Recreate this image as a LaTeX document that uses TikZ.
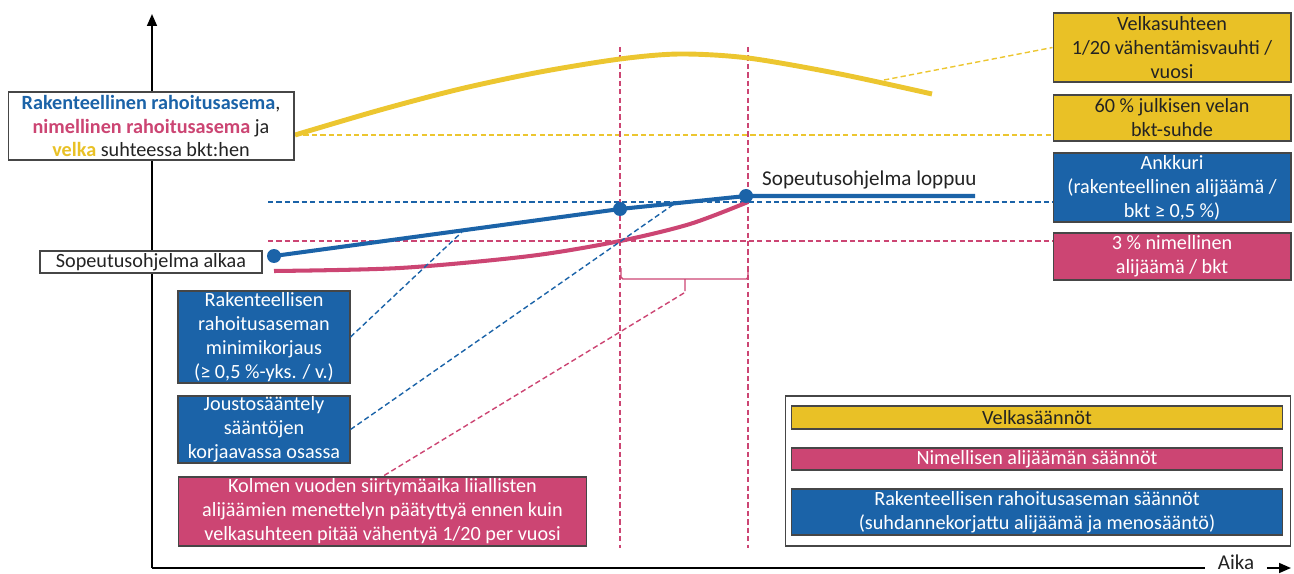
\documentclass[tikz,border=0pt]{standalone}
\usepackage{fontspec}
\setmainfont{Carlito}
\usepackage{tikz}
\usetikzlibrary{arrows.meta}
\definecolor{velka}{RGB}{233,193,38}
\definecolor{velkakayra}{RGB}{236,198,48}
\definecolor{rakenne}{RGB}{27,99,168}
\definecolor{nimellinen}{RGB}{204,69,115}
\definecolor{reuna}{RGB}{70,70,70}
\definecolor{teksti}{RGB}{35,35,35}
\tikzset{
	laatikko/.style={draw=reuna, line width=0.6pt, inner sep=0pt, align=center, text=teksti, font=\fontsize{11.5}{13.6}\selectfont},
	keltainen/.style={laatikko, fill=velka},
	sininen/.style={laatikko, fill=rakenne, text=white},
	punainen/.style={laatikko, fill=nimellinen, text=white},
	katko/.style={dash pattern=on 3pt off 1.8pt, line width=0.8pt},
	nuoli/.style={line width=1.1pt, -{Triangle[width=5.6pt,length=6.8pt]}},
}
\begin{document}
\begin{tikzpicture}[x=0.02cm,y=-0.02cm]
				\useasboundingbox (0,0) rectangle (1294,574);
				% boxes on the right
				\node[keltainen, minimum width=4.76cm, minimum height=1.38cm] (vauhti) at (1172,47.5) {Velkasuhteen\\1/20 vähentämisvauhti /\\vuosi};
				\node[keltainen, minimum width=4.76cm, minimum height=0.92cm] (velkaraja) at (1172,118) {60 \% julkisen velan\\bkt-suhde};
				\node[sininen, minimum width=4.76cm, minimum height=1.38cm] (ankkuri) at (1172,187.5) {Ankkuri\\(rakenteellinen alijäämä /\\bkt ≥ 0,5 \%)};
				\node[punainen, minimum width=4.76cm, minimum height=0.94cm] (alijaama) at (1172,256.5) {3 \% nimellinen\\alijäämä / bkt};
				% dashed levels
				\coordinate (v0) at (295,135);
				\coordinate (r0) at (268,202);
				\coordinate (n0) at (268,241);
				\draw[katko, velkakayra] (v0) -- (v0 -| velkaraja.west);
				\draw[katko, rakenne] (r0) -- (r0 -| ankkuri.west);
				\draw[katko, nimellinen] (n0) -- (n0 -| alijaama.west);
				\draw[katko, nimellinen] (620,47) -- (620,548);
				\draw[katko, nimellinen] (748,47) -- (748,548);
				% axes
				\coordinate (origo) at (152,568);
				\draw[nuoli] (origo) -- (152,14);
				\draw[line width=1.1pt] (origo) -- (1205,568);
				\node[font=\fontsize{12}{14}\selectfont, text=teksti, inner sep=1pt] (aika) at (1236,562) {Aika};
				\draw[nuoli] ([xshift=6pt]aika.east |- origo) -- (1291,568);
				% curves
				\draw[velkakayra, line width=2.8pt] plot[smooth] coordinates {(295,135) (380,110) (460,89) (540,72) (620,59) (680,54) (748,58) (840,74) (932,94)};
				\draw[katko, velkakayra] (884,80) -- (vauhti.west);
				\draw[nimellinen, line width=2.3pt] plot[smooth] coordinates {(274,271) (400,268) (530,256) (620,241) (690,224) (748,202)};
				\coordinate (alku) at (274,256);
				\coordinate (keski) at (620,209);
				\coordinate (loppu) at (746,196);
				\draw[rakenne, line width=2.3pt] (alku) -- (keski) -- (loppu) -- (975,196);
				\fill[rakenne] (alku) circle (7) (keski) circle (7) (loppu) circle (7);
				\node[anchor=west, font=\fontsize{12}{14}\selectfont, text=teksti] (loppuu) at (756,180) {Sopeutusohjelma loppuu};
				% transition brace
				\draw[nimellinen, line width=0.8pt, rounded corners=1pt] (621,268) -- (621,279) -- (748,279) -- (748,268) (685,279) -- (685,291);
				\coordinate (siirtyma) at (684,293);
				% boxes on the left
				\node[laatikko, fill=white, minimum width=5.72cm, minimum height=1.36cm] (otsikko) at (151,126) {{\bfseries\color{rakenne}Rakenteellinen rahoitusasema},\\{\bfseries\color{nimellinen}nimellinen rahoitusasema} ja\\{\bfseries\color{velka}velka} suhteessa bkt:hen};
				\node[laatikko, fill=white, minimum width=4.44cm, minimum height=0.44cm] (alkaa) at (151,262) {Sopeutusohjelma alkaa};
				\node[sininen, minimum width=3.44cm, minimum height=1.84cm] (minimi) at (264,337) {Rakenteellisen\\rahoitusaseman\\minimikorjaus\\(≥ 0,5 \%-yks. / v.)};
				\node[sininen, minimum width=3.44cm, minimum height=1.34cm] (jousto) at (264,429.5) {Joustosääntely\\sääntöjen\\korjaavassa osassa};
				\node[punainen, minimum width=8.18cm, minimum height=1.38cm] (kolmen) at (382.5,511.5) {Kolmen vuoden siirtymäaika liiallisten\\alijäämien menettelyn päätyttyä ennen kuin\\velkasuhteen pitää vähentyä 1/20 per vuosi};
				\draw[katko, rakenne] (minimi.east) -- (462,232);
				\draw[katko, rakenne] (jousto.east) -- (677,202);
				\draw[katko, nimellinen] (siirtyma) -- (kolmen.north);
				% legend
				\node[laatikko, fill=white, minimum width=10.12cm, minimum height=3cm] (selitys) at (1038,471) {};
				\node[keltainen, minimum width=9.84cm, minimum height=0.46cm] (velkasaannot) at (1037,417.5) {Velkasäännöt};
				\node[punainen, minimum width=9.84cm, minimum height=0.44cm] (nimsaannot) at (1037,459) {Nimellisen alijäämän säännöt};
				\node[sininen, minimum width=9.84cm, minimum height=0.92cm] (raksaannot) at (1037,512) {Rakenteellisen rahoitusaseman säännöt\\(suhdannekorjattu alijäämä ja menosääntö)};
			\end{tikzpicture}
\end{document}
